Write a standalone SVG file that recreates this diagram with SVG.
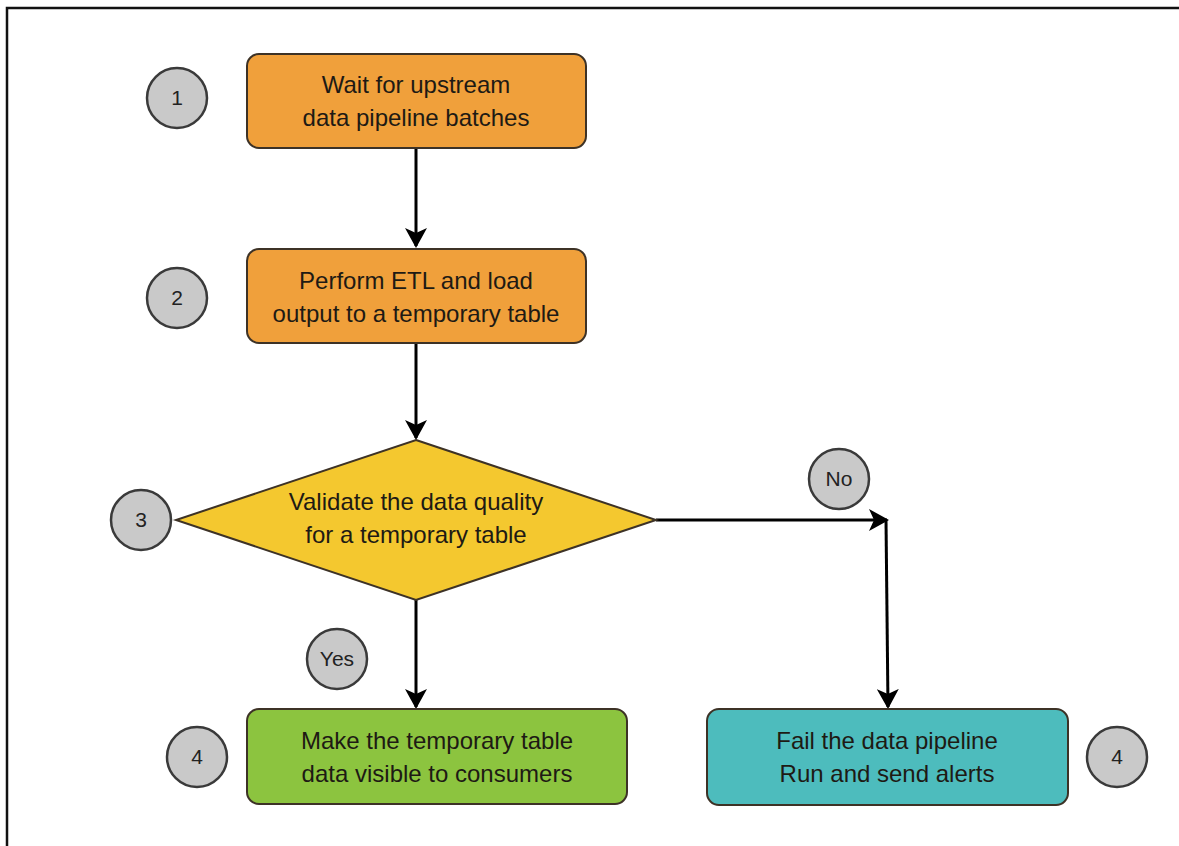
<svg xmlns="http://www.w3.org/2000/svg" width="1179" height="846" viewBox="0 0 1179 846">
<defs>
<marker id="ah" viewBox="0 0 20 22" refX="18" refY="11" markerWidth="20" markerHeight="22" orient="auto" markerUnits="userSpaceOnUse">
<path d="M0,0 L20,11 L0,22 L5,11 Z" fill="#000"/>
</marker>
</defs>
<style>
.t{font-family:"Liberation Sans",Arial,Helvetica,sans-serif;font-size:24px;text-anchor:middle;fill:#1e1a14}
.n{font-family:"Liberation Sans",Arial,Helvetica,sans-serif;font-size:21px;text-anchor:middle;fill:#222}
.c{fill:#c9c9c9;stroke:#3a3a3a;stroke-width:2.5}
.box{stroke:#3d3226;stroke-width:2}
.e{fill:none;stroke:#000;stroke-width:3}
</style>
<rect width="1179" height="846" fill="#fff"/>
<path d="M7,846 L7,8 L1179,8" fill="none" stroke="#111" stroke-width="2.5"/>

<g id="connectors">
<path class="e" d="M416,148 L416,246" marker-end="url(#ah)"/>
<path class="e" d="M416,343 L416,438" marker-end="url(#ah)"/>
<path class="e" d="M416,600 L416,707" marker-end="url(#ah)"/>
<path class="e" d="M656,520 L887,520" marker-end="url(#ah)"/>
<path class="e" d="M886,520 L888,707" marker-end="url(#ah)"/>
</g>

<g id="step1">
<rect class="box" x="247" y="54" width="339" height="94" rx="12" fill="#f0a03b"/>
<text class="t" x="416" y="93">Wait for upstream</text>
<text class="t" x="416" y="126">data pipeline batches</text>
</g>
<g id="badge1">
<circle class="c" cx="177" cy="98" r="30"/>
<text class="n" x="177" y="105">1</text>
</g>

<g id="step2">
<rect class="box" x="247" y="249" width="339" height="94" rx="12" fill="#f0a03b"/>
<text class="t" x="416" y="289">Perform ETL and load</text>
<text class="t" x="416" y="322">output to a temporary table</text>
</g>
<g id="badge2">
<circle class="c" cx="177" cy="298" r="30"/>
<text class="n" x="177" y="305">2</text>
</g>

<g id="step3">
<polygon class="box" points="416,440 656,520 416,600 176,520" fill="#f4c82f"/>
<text class="t" x="416" y="510">Validate the data quality</text>
<text class="t" x="416" y="543">for a temporary table</text>
</g>
<g id="badge3">
<circle class="c" cx="141" cy="520" r="30"/>
<text class="n" x="141" y="527">3</text>
</g>

<g id="label-no">
<circle class="c" cx="839" cy="479" r="30"/>
<text class="n" x="839" y="486">No</text>
</g>
<g id="label-yes">
<circle class="c" cx="337" cy="659" r="30"/>
<text class="n" x="337" y="666">Yes</text>
</g>

<g id="step4a">
<rect class="box" x="247" y="709" width="380" height="95" rx="12" fill="#8cc43f"/>
<text class="t" x="437" y="749">Make the temporary table</text>
<text class="t" x="437" y="782">data visible to consumers</text>
</g>
<g id="badge4a">
<circle class="c" cx="197" cy="757" r="30"/>
<text class="n" x="197" y="764">4</text>
</g>

<g id="step4b">
<rect class="box" x="707" y="709" width="361" height="96" rx="12" fill="#4dbcbd"/>
<text class="t" x="887" y="749">Fail the data pipeline</text>
<text class="t" x="887" y="782">Run and send alerts</text>
</g>
<g id="badge4b">
<circle class="c" cx="1117" cy="757" r="30"/>
<text class="n" x="1117" y="764">4</text>
</g>
</svg>
